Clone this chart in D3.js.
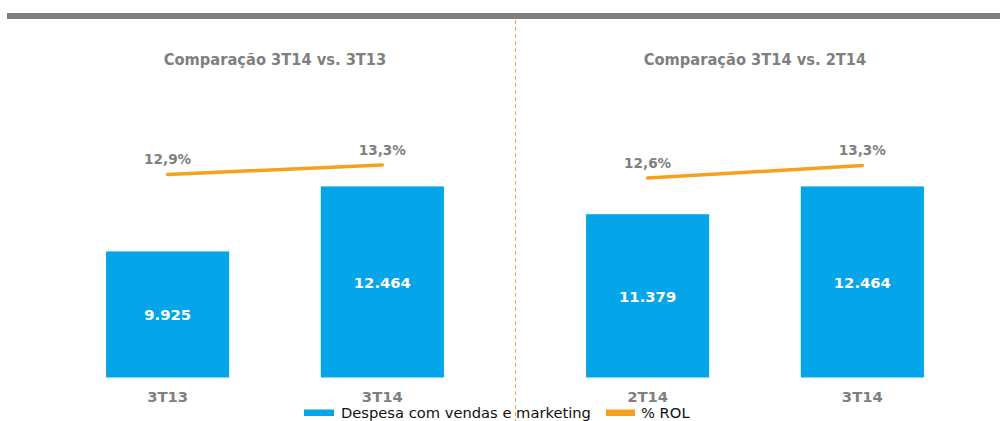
<!DOCTYPE html>
<html>
<head>
<meta charset="utf-8">
<script src="https://cdn.jsdelivr.net/npm/d3@7"></script>
<style>
  body { margin: 0; background: #fff; }
  svg { display: block; }
</style>
</head>
<body>
<svg id="chart"></svg>
<script>
'use strict';

// data
var panelTitles = ["Comparação 3T14 vs. 3T13", "Comparação 3T14 vs. 2T14"];
var panelCategories = [["3T13", "3T14"], ["2T14", "3T14"]];
var despesaValues = [[9925, 12464], [11379, 12464]];
var rolValues = [[12.9, 13.3], [12.6, 13.3]];
var legendLabels = ["Despesa com vendas e marketing", "% ROL"];

var W = 1000, H = 421;
var blue = "#05a5e9", orange = "#f7a01c", gray = "#7f7f7f";

var svg = d3.select("#chart").attr("width", W).attr("height", H);

// top rule
svg.append("rect")
  .attr("x", 7).attr("y", 13)
  .attr("width", W - 7).attr("height", 6)
  .attr("fill", gray);

// divider
svg.append("line")
  .attr("x1", 515.5).attr("x2", 515.5)
  .attr("y1", 20).attr("y2", H)
  .attr("stroke", "#f5a73a")
  .attr("stroke-width", 1)
  .attr("stroke-dasharray", "4,3");

// shared bar scale (axis does not start at zero)
var y = d3.scaleLinear().domain([5000, 15000]).range([377.5, 121.5]);

// each panel has its own secondary axis for % ROL
var pctRanges = [[195.9, 148.4], [188.8, 153.0]];

var panelRanges = [[52.4, 497.6], [532.4, 977.6]];

panelTitles.forEach(function(title, p) {
  var cats = panelCategories[p];
  var x = d3.scaleBand()
    .domain(cats)
    .range(panelRanges[p])
    .paddingInner(0.4266)
    .paddingOuter(0.25);

  var yPct = d3.scaleLinear().domain([12, 14]).range(pctRanges[p]);

  var g = svg.append("g");

  g.append("text")
    .attr("x", (panelRanges[p][0] + panelRanges[p][1]) / 2)
    .attr("y", 65)
    .attr("text-anchor", "middle")
    .attr("font-family", "'DejaVu Sans Condensed', 'DejaVu Sans', sans-serif")
    .attr("font-weight", "bold")
    .attr("font-size", "16.3px")
    .attr("fill", gray)
    .text(title);

  var rows = cats.map(function(c, i) {
    return { cat: c, v: despesaValues[p][i], pct: rolValues[p][i] };
  });

  g.selectAll("rect.bar")
    .data(rows)
    .enter()
    .append("rect")
    .attr("class", "bar")
    .attr("x", function(d) { return x(d.cat); })
    .attr("y", function(d) { return y(d.v); })
    .attr("width", x.bandwidth())
    .attr("height", function(d) { return y.range()[0] - y(d.v); })
    .attr("fill", blue);

  g.selectAll("text.val")
    .data(rows)
    .enter()
    .append("text")
    .attr("class", "val")
    .attr("x", function(d) { return x(d.cat) + x.bandwidth() / 2; })
    .attr("y", function(d) { return (y(d.v) + y.range()[0]) / 2 + 6; })
    .attr("text-anchor", "middle")
    .attr("font-family", "'DejaVu Sans', Verdana, sans-serif")
    .attr("font-weight", "bold")
    .attr("font-size", "14.8px")
    .attr("fill", "#fff")
    .text(function(d) { return d3.format(",")(d.v).replace(/,/g, "."); });

  // category axis labels
  g.selectAll("text.cat")
    .data(rows)
    .enter()
    .append("text")
    .attr("class", "cat")
    .attr("x", function(d) { return x(d.cat) + x.bandwidth() / 2; })
    .attr("y", 402)
    .attr("text-anchor", "middle")
    .attr("font-family", "'DejaVu Sans', Verdana, sans-serif")
    .attr("font-weight", "bold")
    .attr("font-size", "14.8px")
    .attr("fill", gray)
    .text(function(d) { return d.cat; });

  var line = d3.line()
    .x(function(d) { return x(d.cat) + x.bandwidth() / 2; })
    .y(function(d) { return yPct(d.pct); });

  g.append("path")
    .datum(rows)
    .attr("d", line)
    .attr("fill", "none")
    .attr("stroke", orange)
    .attr("stroke-width", 3.5)
    .attr("stroke-linecap", "round");

  g.selectAll("text.pct")
    .data(rows)
    .enter()
    .append("text")
    .attr("class", "pct")
    .attr("x", function(d) { return x(d.cat) + x.bandwidth() / 2; })
    .attr("y", function(d) { return yPct(d.pct) - 10.5; })
    .attr("text-anchor", "middle")
    .attr("font-family", "'DejaVu Sans', Verdana, sans-serif")
    .attr("font-weight", "bold")
    .attr("font-size", "13.6px")
    .attr("fill", gray)
    .text(function(d) { return String(d.pct).replace(".", ",") + "%"; });
});

// legend
var legend = svg.append("g");
legend.append("rect")
  .attr("x", 304).attr("y", 409.5)
  .attr("width", 30).attr("height", 6.5)
  .attr("fill", blue);
legend.append("text")
  .attr("x", 341).attr("y", 418)
  .attr("font-family", "'DejaVu Sans', Verdana, sans-serif")
  .attr("font-size", "14.7px")
  .attr("fill", "#111")
  .text(legendLabels[0]);
legend.append("rect")
  .attr("x", 606).attr("y", 409.5)
  .attr("width", 29).attr("height", 6.5)
  .attr("fill", orange);
legend.append("text")
  .attr("x", 641).attr("y", 418)
  .attr("font-family", "'DejaVu Sans', Verdana, sans-serif")
  .attr("font-size", "14.7px")
  .attr("fill", "#111")
  .text(legendLabels[1]);
</script>
</body>
</html>
